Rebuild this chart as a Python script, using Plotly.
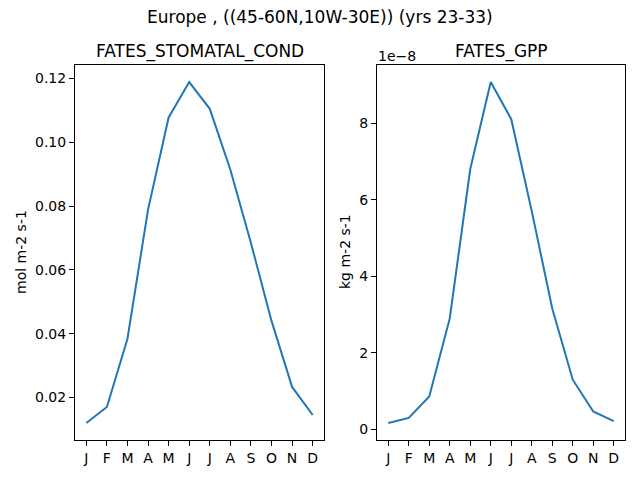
import plotly.graph_objects as go

# --- Data ---
months = ["J", "F", "M", "A", "M", "J", "J", "A", "S", "O", "N", "D"]
stomatal_cond = [0.0120, 0.0170, 0.0384, 0.0789, 0.1078, 0.1189,
                 0.1105, 0.0914, 0.0684, 0.0440, 0.0233, 0.0145]
gpp = [0.17e-8, 0.30e-8, 0.86e-8, 2.90e-8, 6.80e-8, 9.07e-8,
       8.10e-8, 5.70e-8, 3.16e-8, 1.30e-8, 0.47e-8, 0.22e-8]
cond_ticks = [0.02, 0.04, 0.06, 0.08, 0.10, 0.12]
gpp_ticks = [0, 2e-8, 4e-8, 6e-8, 8e-8]

FONT = "DejaVu Sans"
BLUE = "#1f77b4"

# page body has a default 8px margin, so lay out in a 632x472 box
OFF = 8
W, H = 640 - OFF, 480 - OFF


def fx(px):
    return (px - OFF) / W


def fy(py):
    return 1 - (py - OFF) / H


def padded(vals, frac=0.05):
    lo, hi = min(vals), max(vals)
    pad = (hi - lo) * frac
    return [lo - pad, hi + pad]


x_idx = list(range(len(months)))

fig = go.Figure()
fig.add_trace(go.Scatter(x=x_idx, y=stomatal_cond, mode="lines",
                         line=dict(color=BLUE, width=2), xaxis="x", yaxis="y"))
fig.add_trace(go.Scatter(x=x_idx, y=gpp, mode="lines",
                         line=dict(color=BLUE, width=2), xaxis="x2", yaxis="y2"))

axis_common = dict(showline=True, mirror=True, linecolor="black", linewidth=1,
                   ticks="outside", ticklen=5, tickwidth=1, tickcolor="black",
                   showgrid=False, zeroline=False,
                   tickfont=dict(family=FONT, size=14, color="black"))

xdom1 = [fx(75), fx(324)]
xdom2 = [fx(377), fx(625)]
ydom = [fy(440), fy(65)]

fig.update_layout(
    width=W, height=H,
    margin=dict(l=0, r=0, t=0, b=0),
    paper_bgcolor="white", plot_bgcolor="white",
    showlegend=False,
    font=dict(family=FONT, color="black"),
    xaxis=dict(domain=xdom1, anchor="y", range=[-0.55, 11.55],
               tickvals=x_idx, ticktext=months, **axis_common),
    yaxis=dict(domain=ydom, anchor="x", range=padded(stomatal_cond),
               tickvals=cond_ticks, ticktext=[f"{t:.2f}" for t in cond_ticks],
               **axis_common),
    xaxis2=dict(domain=xdom2, anchor="y2", range=[-0.55, 11.55],
                tickvals=x_idx, ticktext=months, **axis_common),
    yaxis2=dict(domain=ydom, anchor="x2", range=padded(gpp),
                tickvals=gpp_ticks, ticktext=[f"{t / 1e-8:.0f}" for t in gpp_ticks],
                **axis_common),
)

annotations = [
    dict(text="Europe , ((45-60N,10W-30E)) (yrs 23-33)", x=fx(320), y=fy(17),
         font=dict(size=17)),
    dict(text="FATES_STOMATAL_COND", x=fx(199.5), y=fy(52), font=dict(size=17)),
    dict(text="FATES_GPP", x=fx(501), y=fy(52), font=dict(size=17)),
    dict(text="mol m-2 s-1", x=fx(21), y=fy(252), textangle=-90,
         font=dict(size=14)),
    dict(text="kg m-2 s-1", x=fx(345), y=fy(252), textangle=-90,
         font=dict(size=14)),
    dict(text="1e\u22128", x=fx(376), y=fy(56), xanchor="left",
         font=dict(size=14)),
]
for a in annotations:
    a.setdefault("xanchor", "center")
    fig.add_annotation(xref="paper", yref="paper", showarrow=False,
                       yanchor="middle", font_family=FONT, **a)

fig.write_html("out.html")
